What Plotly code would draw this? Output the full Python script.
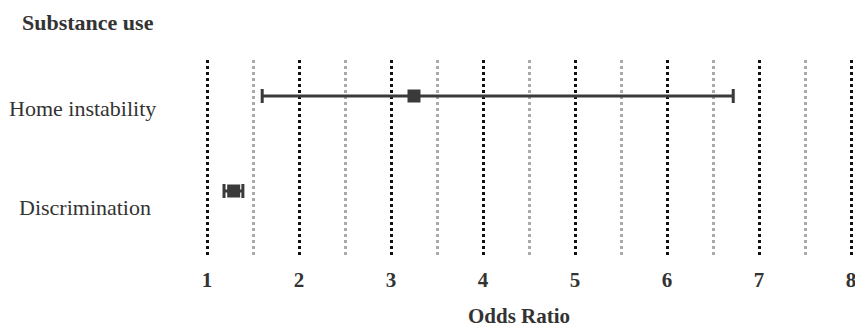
import plotly.graph_objects as go

categories = ["Home instability", "Discrimination"]
odds_ratio = [3.25, 1.29]
ci_low = [1.60, 1.185]
ci_high = [6.72, 1.39]
tick_vals = [1, 2, 3, 4, 5, 6, 7, 8]
title_text = "Substance use"
x_title = "Odds Ratio"

W, H = 855, 327
ml, mr, mt, mb = 202, 0, 60, 70
pw, ph = W - ml - mr, H - mt - mb
px_per_unit = 92
x0 = 1 - (207 - ml) / px_per_unit
x1 = x0 + pw / px_per_unit

ypos = [1, 0]
y_px_unit = 95
y_top = 1 + (96 - mt) / y_px_unit
y_bot = y_top - ph / y_px_unit


def px_x(px):
    return (px - ml) / pw


def px_y(py):
    return (H - mb - py) / ph


font_family = "Liberation Serif, Times New Roman, serif"
dark = "#3a3a3a"
text_col = "#333333"

fig = go.Figure()
fig.add_trace(go.Scatter(
    x=odds_ratio, y=ypos, mode="markers",
    marker=dict(symbol="square", size=13, color=dark),
    error_x=dict(type="data", symmetric=False,
                 array=[h - o for h, o in zip(ci_high, odds_ratio)],
                 arrayminus=[o - l for o, l in zip(odds_ratio, ci_low)],
                 color=dark, thickness=3, width=7),
    showlegend=False, hoverinfo="x+y",
))

fig.update_layout(
    width=W, height=H,
    margin=dict(l=ml, r=mr, t=mt, b=mb, autoexpand=False),
    paper_bgcolor="white", plot_bgcolor="white",
    font=dict(family=font_family, color=text_col),
    xaxis=dict(range=[x0, x1], tickvals=tick_vals, showline=False, zeroline=False,
               showgrid=True, gridcolor="#111111", gridwidth=3, griddash="dot",
               ticks="", ticklabelstandoff=8, ticklabeloverflow="allow",
               tickfont=dict(size=21, family=font_family, color=text_col, weight="bold"),
               minor=dict(dtick=0.5, tick0=0.5, showgrid=True, gridcolor="#aaaaaa",
                          gridwidth=3, griddash="dot")),
    yaxis=dict(range=[y_bot, y_top], showticklabels=False, showgrid=False,
               zeroline=False, showline=False),
)

# y labels
label_y_px = [108, 207]
label_x_px = [82, 85]
for cat, px, py in zip(categories, label_x_px, label_y_px):
    fig.add_annotation(text=cat, x=px_x(px), xref="paper", y=px_y(py), yref="paper",
                       showarrow=False, xanchor="center", yanchor="middle",
                       font=dict(size=22, family=font_family, color=text_col))

fig.add_annotation(text="<b>" + title_text + "</b>", x=px_x(20), xref="paper",
                   y=px_y(22), yref="paper", yanchor="middle", xanchor="left",
                   showarrow=False, font=dict(size=22, family=font_family, color=text_col))

fig.add_annotation(text="<b>" + x_title + "</b>", x=px_x(519), xref="paper",
                   y=px_y(316), yref="paper", yanchor="middle",
                   xanchor="center", showarrow=False,
                   font=dict(size=21, family=font_family, color=text_col))

fig.write_html(
    "out.html",
    config={"displayModeBar": False},
    post_script="document.body.style.margin='0';document.body.style.overflow='hidden';",
)
